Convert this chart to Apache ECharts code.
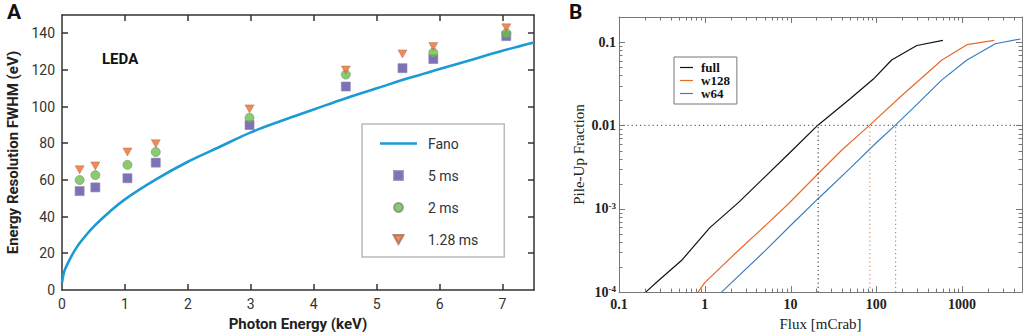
<!DOCTYPE html>
<html>
<head>
<meta charset="utf-8">
<script src="https://cdn.jsdelivr.net/npm/echarts@6/dist/echarts.min.js"></script>
<style>
  html, body { margin: 0; padding: 0; background: #fff; }
  #chart { width: 1024px; height: 336px; }
</style>
</head>
<body>
<div id="chart"></div>
<script>
// panel A: energy resolution
var fanoE = [0, 0.02, 0.05, 0.12, 0.2, 0.3, 0.5, 0.75, 1, 1.5, 2, 2.5, 3, 3.5, 4, 4.5, 5, 5.5, 6, 6.5, 7, 7.5];
var fanoW = [4, 8, 11.5, 16.5, 21.5, 26.5, 34.5, 42.5, 49.5, 60.5, 70, 78, 86, 92.5, 98.5, 104.5, 110, 115.5, 120.5, 125.5, 130.5, 135];

var lineE = [0.28, 0.53, 1.04, 1.49, 2.98, 4.51, 5.41, 5.9, 7.06];
var res5ms = [54, 56, 61, 69.5, 90, 111, 121, 126, 138.5];
var res2ms = [60, 62.7, 68.3, 75.3, 94, 117.5, null, 129.5, 140];
var res128ms = [65.6, 67.7, 75.3, 79.8, 98.8, 120, 128.8, 132.8, 143];

// panel B: pile-up fraction
var fullFlux = [0.205, 0.285, 0.543, 1.14, 2.5, 5, 10, 20.7, 50, 92.5, 151, 297, 598];
var fullPile = [1e-4, 1.36e-4, 2.43e-4, 5.9e-4, 1.2e-3, 2.4e-3, 4.8e-3, 0.01, 0.021, 0.036, 0.061, 0.091, 0.105];
var w128Flux = [0.835, 1, 2.5, 5, 9.4, 21.1, 40, 83.2, 200, 582, 1140, 2377];
var w128Pile = [1e-4, 1.3e-4, 3.2e-4, 6.2e-4, 1.14e-3, 2.65e-3, 5.1e-3, 0.01, 0.023, 0.061, 0.093, 0.105];
var w64Flux = [1.57, 5, 10, 21.1, 50, 100, 166, 300, 582, 1140, 2444, 4790];
var w64Pile = [1e-4, 3.1e-4, 6.3e-4, 1.33e-3, 3.1e-3, 6.2e-3, 0.01, 0.018, 0.0352, 0.061, 0.0955, 0.109];
var crossFlux = [21, 84, 168];
var pileLevel = 0.01;

// tick positions
var ticksEnergy = [1, 2, 3, 4, 5, 6, 7];
var ticksRes = [20, 40, 60, 80, 100, 120, 140];
var ticksFluxMajor = [1, 10, 100, 1000];
var ticksPileMajor = [1e-3, 0.01, 0.1];

function pairs(xs, ys) {
    var out = [];
    for (var i = 0; i < xs.length; i++) {
        if (ys[i] != null) out.push([xs[i], ys[i]]);
    }
    return out;
}

// x ticks: [value, anyY, length]; y ticks: [anyX, value, length]
var xTicksA = [], yTicksA = [], xTicksB = [], yTicksB = [];
ticksEnergy.forEach(function (v) { xTicksA.push([v, 75, 6]); });
ticksRes.forEach(function (v) { yTicksA.push([3, v, 6]); });
ticksFluxMajor.forEach(function (v) { xTicksB.push([v, 1e-3, 6]); });
ticksPileMajor.forEach(function (v) { yTicksB.push([1, v, 6]); });
for (var k = -1; k <= 3; k++) {
    for (var m = 2; m <= 9; m++) {
        var v = m * Math.pow(10, k);
        if (v < 5000) xTicksB.push([v, 1e-3, 3.5]);
    }
}
for (var k2 = -4; k2 <= -1; k2++) {
    for (var m2 = 2; m2 <= 9; m2++) {
        var v2 = m2 * Math.pow(10, k2);
        if (v2 < 0.2) yTicksB.push([1, v2, 3.5]);
    }
}

var sansFont = 'Roboto';
var serifFont = 'Liberation Serif';
var axA = '#333';
var axB = '#777';
var triPath = 'path://M0,0 L10,0 L5,9 Z';
var barPath = function (w, h) { return 'path://M0,0 L' + w + ',0 L' + w + ',' + h + ' L0,' + h + ' Z'; };

function lineA() { return { show: true, onZero: false, lineStyle: { color: axA, width: 1.5 } }; }
function lineB() { return { show: true, onZero: false, lineStyle: { color: axB, width: 1 } }; }

// inward ticks on both sides of a grid, drawn as polylines
function xTickRender(color, width) {
    return function (params, api) {
        var cs = params.coordSys;
        var x = Math.round(api.coord([api.value(0), api.value(1)])[0]) + (width < 1.5 ? 0.5 : 0);
        var len = api.value(2);
        var b = cs.y + cs.height, t = cs.y;
        return {
            type: 'group', children: [
                { type: 'polyline', shape: { points: [[x, b], [x, b - len]] }, style: { stroke: color, lineWidth: width, fill: 'none' } },
                { type: 'polyline', shape: { points: [[x, t], [x, t + len]] }, style: { stroke: color, lineWidth: width, fill: 'none' } }
            ]
        };
    };
}
function yTickRender(color, width) {
    return function (params, api) {
        var cs = params.coordSys;
        var y = Math.round(api.coord([api.value(0), api.value(1)])[1]) + (width < 1.5 ? 0.5 : 0);
        var len = api.value(2);
        var l = cs.x, r = cs.x + cs.width;
        return {
            type: 'group', children: [
                { type: 'polyline', shape: { points: [[l, y], [l + len, y]] }, style: { stroke: color, lineWidth: width, fill: 'none' } },
                { type: 'polyline', shape: { points: [[r, y], [r - len, y]] }, style: { stroke: color, lineWidth: width, fill: 'none' } }
            ]
        };
    };
}

var myChart = echarts.init(document.getElementById('chart'), null, { renderer: 'svg' });

var option = {
    animation: false,
    title: [
        { text: 'A', left: 2, top: -4, textStyle: { fontFamily: sansFont, fontWeight: 'bold', fontSize: 21, color: '#111' } },
        { text: 'B', left: 564, top: -4, textStyle: { fontFamily: sansFont, fontWeight: 'bold', fontSize: 21, color: '#111' } },
        { text: 'LEDA', left: 97, top: 46, textStyle: { fontFamily: sansFont, fontWeight: 'bold', fontSize: 15, color: '#111' } }
    ],
    grid: [
        { left: 62, top: 15, width: 472, height: 278 },
        { left: 619, top: 17, width: 403, height: 286 }
    ],
    legend: [
        {
            data: [
                { name: 'Fano', icon: barPath(37, 2.6) },
                { name: '5 ms', icon: barPath(10, 10) },
                { name: '2 ms', icon: 'circle' },
                { name: '1.28 ms', icon: triPath }
            ],
            orient: 'vertical',
            left: 362, top: 124,
            padding: [11, 26, 9, 18],
            itemWidth: 37, itemHeight: 9, itemGap: 15,
            symbolKeepAspect: true,
            borderColor: '#bbb', borderWidth: 1.5,
            textStyle: { fontFamily: sansFont, fontSize: 14, color: '#333', padding: [0, 0, 0, 6], lineHeight: 17 }
        },
        {
            data: [
                { name: 'full', icon: barPath(13, 1.2) },
                { name: 'w128', icon: barPath(13, 1.2) },
                { name: 'w64', icon: barPath(13, 1.2) }
            ],
            orient: 'vertical',
            left: 674, top: 57,
            padding: [4, 7, 4, 6],
            itemWidth: 13, itemHeight: 8, itemGap: 0,
            symbolKeepAspect: true,
            borderColor: '#777', borderWidth: 1,
            textStyle: { fontFamily: serifFont, fontWeight: 'bold', fontSize: 13, color: '#111', padding: [0, 0, 0, 3], lineHeight: 11 }
        }
    ],
    xAxis: [
        {
            gridIndex: 0, type: 'value', min: 0, max: 7.5, interval: 1,
            name: 'Photon Energy (keV)', nameLocation: 'middle', nameGap: 23,
            nameTextStyle: { fontFamily: sansFont, fontWeight: 'bold', fontSize: 15, color: '#222' },
            axisLine: lineA(), axisTick: { show: false },
            axisLabel: { margin: 7, showMaxLabel: false, fontFamily: sansFont, fontSize: 14, color: '#333' },
            splitLine: { show: false }
        },
        {
            gridIndex: 0, type: 'value', min: 0, max: 7.5, interval: 1, position: 'top',
            axisLine: lineA(), axisTick: { show: false }, axisLabel: { show: false }, splitLine: { show: false }
        },
        {
            gridIndex: 1, type: 'log', logBase: 10, min: 0.1, max: 5000,
            name: 'Flux [mCrab]', nameLocation: 'middle', nameGap: 16,
            nameTextStyle: { fontFamily: serifFont, fontSize: 15, color: '#222' },
            axisLine: lineB(), axisTick: { show: false },
            axisLabel: {
                margin: 5, showMaxLabel: false, fontFamily: serifFont, fontWeight: 'bold', fontSize: 14, color: '#222',
                formatter: function (v) { return String(+v.toPrecision(3)); }
            },
            splitLine: { show: false }
        },
        {
            gridIndex: 1, type: 'log', logBase: 10, min: 0.1, max: 5000, position: 'top',
            axisLine: lineB(), axisTick: { show: false }, axisLabel: { show: false }, splitLine: { show: false }
        }
    ],
    yAxis: [
        {
            gridIndex: 0, type: 'value', min: 0, max: 150, interval: 20,
            name: 'Energy Resolution FWHM (eV)', nameLocation: 'middle', nameGap: 42,
            nameTextStyle: { fontFamily: sansFont, fontWeight: 'bold', fontSize: 15, color: '#222' },
            axisLine: lineA(), axisTick: { show: false },
            axisLabel: { margin: 7, showMaxLabel: false, fontFamily: sansFont, fontSize: 14, color: '#333' },
            splitLine: { show: false }
        },
        {
            gridIndex: 0, type: 'value', min: 0, max: 150, interval: 20, position: 'right',
            axisLine: lineA(), axisTick: { show: false }, axisLabel: { show: false }, splitLine: { show: false }
        },
        {
            gridIndex: 1, type: 'log', logBase: 10, min: 1e-4, max: 0.2,
            name: 'Pile-Up Fraction', nameLocation: 'middle', nameGap: 33,
            nameTextStyle: { fontFamily: serifFont, fontSize: 15, color: '#222' },
            axisLine: lineB(), axisTick: { show: false },
            axisLabel: {
                margin: 3, showMaxLabel: false, fontFamily: serifFont, fontWeight: 'bold', fontSize: 14, color: '#222',
                formatter: function (v) {
                    if (v >= 0.01) return String(+v.toPrecision(3));
                    var e = Math.round(Math.log(v) / Math.LN10);
                    return '10{s|' + e + '}';
                },
                rich: { s: { fontFamily: serifFont, fontWeight: 'bold', fontSize: 9, color: '#222', verticalAlign: 'top', padding: [0, 0, 6, 0] } }
            },
            splitLine: { show: false }
        },
        {
            gridIndex: 1, type: 'log', logBase: 10, min: 1e-4, max: 0.2, position: 'right',
            axisLine: lineB(), axisTick: { show: false }, axisLabel: { show: false }, splitLine: { show: false }
        }
    ],
    series: [
        {
            name: 'Fano', type: 'line', xAxisIndex: 0, yAxisIndex: 0,
            data: pairs(fanoE, fanoW), smooth: 0.4, symbol: 'none',
            lineStyle: { color: '#1b9ad6', width: 2.6 }, itemStyle: { color: '#1b9ad6' }
        },
        {
            name: '5 ms', type: 'scatter', xAxisIndex: 0, yAxisIndex: 0,
            data: pairs(lineE, res5ms), symbol: 'rect', symbolSize: 9,
            itemStyle: { color: '#5a4fa6', borderColor: '#8a86a8', borderWidth: 0.8 }
        },
        {
            name: '2 ms', type: 'scatter', xAxisIndex: 0, yAxisIndex: 0,
            data: pairs(lineE, res2ms), symbol: 'circle', symbolSize: 9,
            itemStyle: { color: '#6cbf48', borderColor: '#7f8f78', borderWidth: 0.8 }
        },
        {
            name: '1.28 ms', type: 'scatter', xAxisIndex: 0, yAxisIndex: 0,
            data: pairs(lineE, res128ms), symbol: triPath, symbolSize: [9, 8],
            itemStyle: { color: '#f26b2c', borderColor: '#a07060', borderWidth: 0.6 }
        },
        {
            name: 'full', type: 'line', xAxisIndex: 2, yAxisIndex: 2,
            data: pairs(fullFlux, fullPile), symbol: 'none',
            lineStyle: { color: '#111', width: 1.2 }, itemStyle: { color: '#111' }
        },
        {
            name: 'w128', type: 'line', xAxisIndex: 2, yAxisIndex: 2,
            data: pairs(w128Flux, w128Pile), symbol: 'none',
            lineStyle: { color: '#e8692a', width: 1.2 }, itemStyle: { color: '#e8692a' }
        },
        {
            name: 'w64', type: 'line', xAxisIndex: 2, yAxisIndex: 2,
            data: pairs(w64Flux, w64Pile), symbol: 'none',
            lineStyle: { color: '#3a7fc1', width: 1.2 }, itemStyle: { color: '#3a7fc1' }
        },
        {
            name: 'level', type: 'line', xAxisIndex: 2, yAxisIndex: 2, symbol: 'none', silent: true,
            data: [[0.1, pileLevel], [5000, pileLevel]],
            lineStyle: { color: '#666', width: 1.2, type: [1.2, 3] }
        },
        {
            name: 'cross-full', type: 'line', xAxisIndex: 2, yAxisIndex: 2, symbol: 'none', silent: true,
            data: [[crossFlux[0], 1e-4], [crossFlux[0], pileLevel]],
            lineStyle: { color: '#444', width: 1.2, type: [1.2, 3] }
        },
        {
            name: 'cross-w128', type: 'line', xAxisIndex: 2, yAxisIndex: 2, symbol: 'none', silent: true,
            data: [[crossFlux[1], 1e-4], [crossFlux[1], pileLevel]],
            lineStyle: { color: '#eb8a55', width: 1.2, type: [1.2, 3] }
        },
        {
            name: 'cross-w64', type: 'line', xAxisIndex: 2, yAxisIndex: 2, symbol: 'none', silent: true,
            data: [[crossFlux[2], 1e-4], [crossFlux[2], pileLevel]],
            lineStyle: { color: '#6f9ccc', width: 1.2, type: [1.2, 3] }
        },
        { name: 'ticks-xa', type: 'custom', xAxisIndex: 0, yAxisIndex: 0, silent: true, z: 5, data: xTicksA, renderItem: xTickRender(axA, 1.5) },
        { name: 'ticks-ya', type: 'custom', xAxisIndex: 0, yAxisIndex: 0, silent: true, z: 5, data: yTicksA, renderItem: yTickRender(axA, 1.5) },
        { name: 'ticks-xb', type: 'custom', xAxisIndex: 2, yAxisIndex: 2, silent: true, z: 5, data: xTicksB, renderItem: xTickRender(axB, 1) },
        { name: 'ticks-yb', type: 'custom', xAxisIndex: 2, yAxisIndex: 2, silent: true, z: 5, data: yTicksB, renderItem: yTickRender(axB, 1) }
    ]
};

myChart.setOption(option, true);
</script>
</body>
</html>
